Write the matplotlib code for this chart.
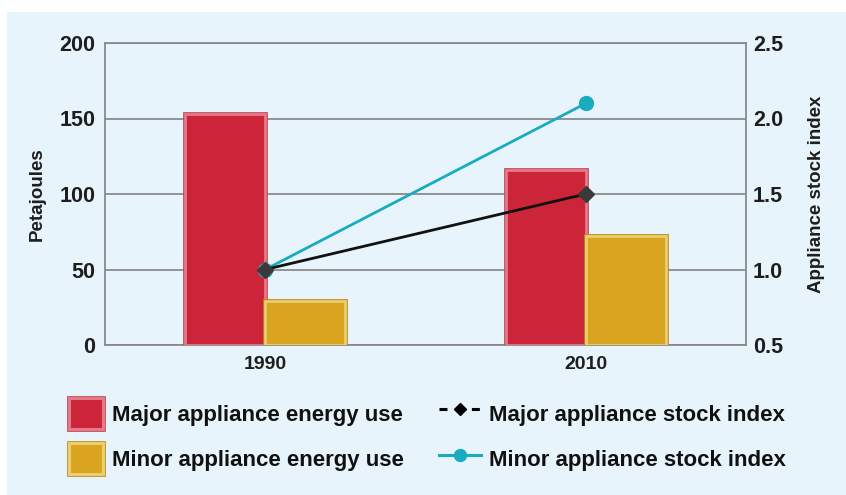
import matplotlib
matplotlib.use("Agg")
import matplotlib.pyplot as plt
from matplotlib.patches import Rectangle, Patch
from matplotlib.lines import Line2D
import matplotlib.patheffects as pe
import numpy as np

years = ["1990", "2010"]
major_energy = [153, 116]
minor_energy = [29, 72]
major_index = [1.0, 1.5]
minor_index = [1.0, 2.1]

left_ticks = [0, 50, 100, 150, 200]
right_ticks = [0.5, 1.0, 1.5, 2.0, 2.5]

plt.rcParams['font.family'] = ['Liberation Sans', 'DejaVu Sans']

BG = "#E7F4FC"
RED = "#CC2438"
RED_EDGE = "#E27A88"
RED_OUT = "#C54258"
GOLD = "#D9A520"
GOLD_EDGE = "#EDCD70"
GOLD_OUT = "#B48C18"
GRID = "#8A8A8A"
CYAN = "#19ABBF"
TXT = "#1E1E1E"

fig = plt.figure(figsize=(8.46, 4.95), dpi=100, facecolor="white")
fig.patches.append(Rectangle((7/846, 0), 1, 1 - 12/495, transform=fig.transFigure,
                             facecolor=BG, edgecolor="none", zorder=-10))

ax = fig.add_axes([105/846, 1 - 345/495, (746 - 105)/846, (345 - 43)/495])
ax.set_facecolor(BG)
ax.patch.set_alpha(0)

x = np.arange(len(years))
w = 0.25
red_fx = [pe.Stroke(linewidth=3.4, foreground=RED_OUT), pe.Normal()]
gold_fx = [pe.Stroke(linewidth=3.4, foreground=GOLD_OUT), pe.Normal()]
b1 = ax.bar(x - w/2, major_energy, w, color=RED, edgecolor=RED_EDGE, linewidth=2.0, zorder=3)
b2 = ax.bar(x + w/2, minor_energy, w, color=GOLD, edgecolor=GOLD_EDGE, linewidth=2.0, zorder=3)
for p in b1:
    p.set_path_effects(red_fx)
for p in b2:
    p.set_path_effects(gold_fx)

ax.set_xlim(-0.5, 1.5)
ax.set_ylim(0, 200)
ax.set_yticks(left_ticks)
ax.set_xticks(x)
ax.set_xticklabels(years)
ax.yaxis.grid(True, color=GRID, linewidth=1.3, zorder=0)
ax.set_axisbelow(True)
for s in ax.spines.values():
    s.set_color(GRID)
    s.set_linewidth(1.3)
ax.tick_params(axis='both', length=0)
ax.tick_params(axis='y', pad=7, labelsize=15.5)
ax.tick_params(axis='x', pad=8, labelsize=14)
for lab in ax.get_yticklabels() + ax.get_xticklabels():
    lab.set_fontweight('bold')
    lab.set_color(TXT)
ax.set_ylabel("Petajoules", fontsize=13.5, fontweight='bold', color=TXT, labelpad=10)

ax2 = ax.twinx()
ax2.set_ylim(0.5, 2.5)
ax2.set_yticks(right_ticks)
ax2.set_yticklabels([f"{t:.1f}" for t in right_ticks])
for s in ax2.spines.values():
    s.set_visible(False)
ax2.tick_params(axis='y', length=0, pad=5, labelsize=15.5)
for lab in ax2.get_yticklabels():
    lab.set_fontweight('bold')
    lab.set_color(TXT)
ax2.set_ylabel("Appliance stock index", fontsize=13.5, fontweight='bold', color=TXT, labelpad=18)

ax2.plot(x, minor_index, color=CYAN, linewidth=2, marker='o', markersize=10,
         markerfacecolor=CYAN, markeredgecolor=CYAN, zorder=5)
ax2.plot(x, major_index, color="#111111", linewidth=2, marker='D', markersize=8,
         markerfacecolor="#3A3A3A", markeredgecolor="#3A3A3A", zorder=6)

prop = {'size': 16, 'weight': 'bold'}
bar_handles = [
    Patch(facecolor=RED, edgecolor=RED_EDGE, linewidth=2.2, path_effects=red_fx),
    Patch(facecolor=GOLD, edgecolor=GOLD_EDGE, linewidth=2.2, path_effects=gold_fx),
]
bar_labels = ["Major appliance energy use", "Minor appliance energy use"]
leg1 = fig.legend(bar_handles, bar_labels, loc='upper left',
                  bbox_to_anchor=(69/846, 1 - 398/495), frameon=False, prop=prop,
                  handlelength=1.55, handleheight=1.75, labelspacing=0.66,
                  handletextpad=0.4, borderaxespad=0, borderpad=0)

line_handles = [
    Line2D([0], [0], color="black", linewidth=2.2, linestyle=(0, (2.6, 8.0, 2.6, 5)),
           marker='D', markersize=6.6, markerfacecolor="black", markeredgecolor="black"),
    Line2D([0], [0], color=CYAN, linewidth=2.2, marker='o', markersize=8.6,
           markerfacecolor=CYAN, markeredgecolor=CYAN),
]
line_labels = ["Major appliance stock index", "Minor appliance stock index"]
leg2 = fig.legend(line_handles, line_labels, loc='upper left',
                  bbox_to_anchor=(439/846, 1 - 398/495), frameon=False, prop=prop,
                  handlelength=1.9, handleheight=1.75, labelspacing=0.66,
                  handletextpad=0.36, borderaxespad=0, borderpad=0)
for lg in (leg1, leg2):
    for t in lg.get_texts():
        t.set_color("#111111")

fig.savefig("out.png", dpi=100, facecolor="white")
